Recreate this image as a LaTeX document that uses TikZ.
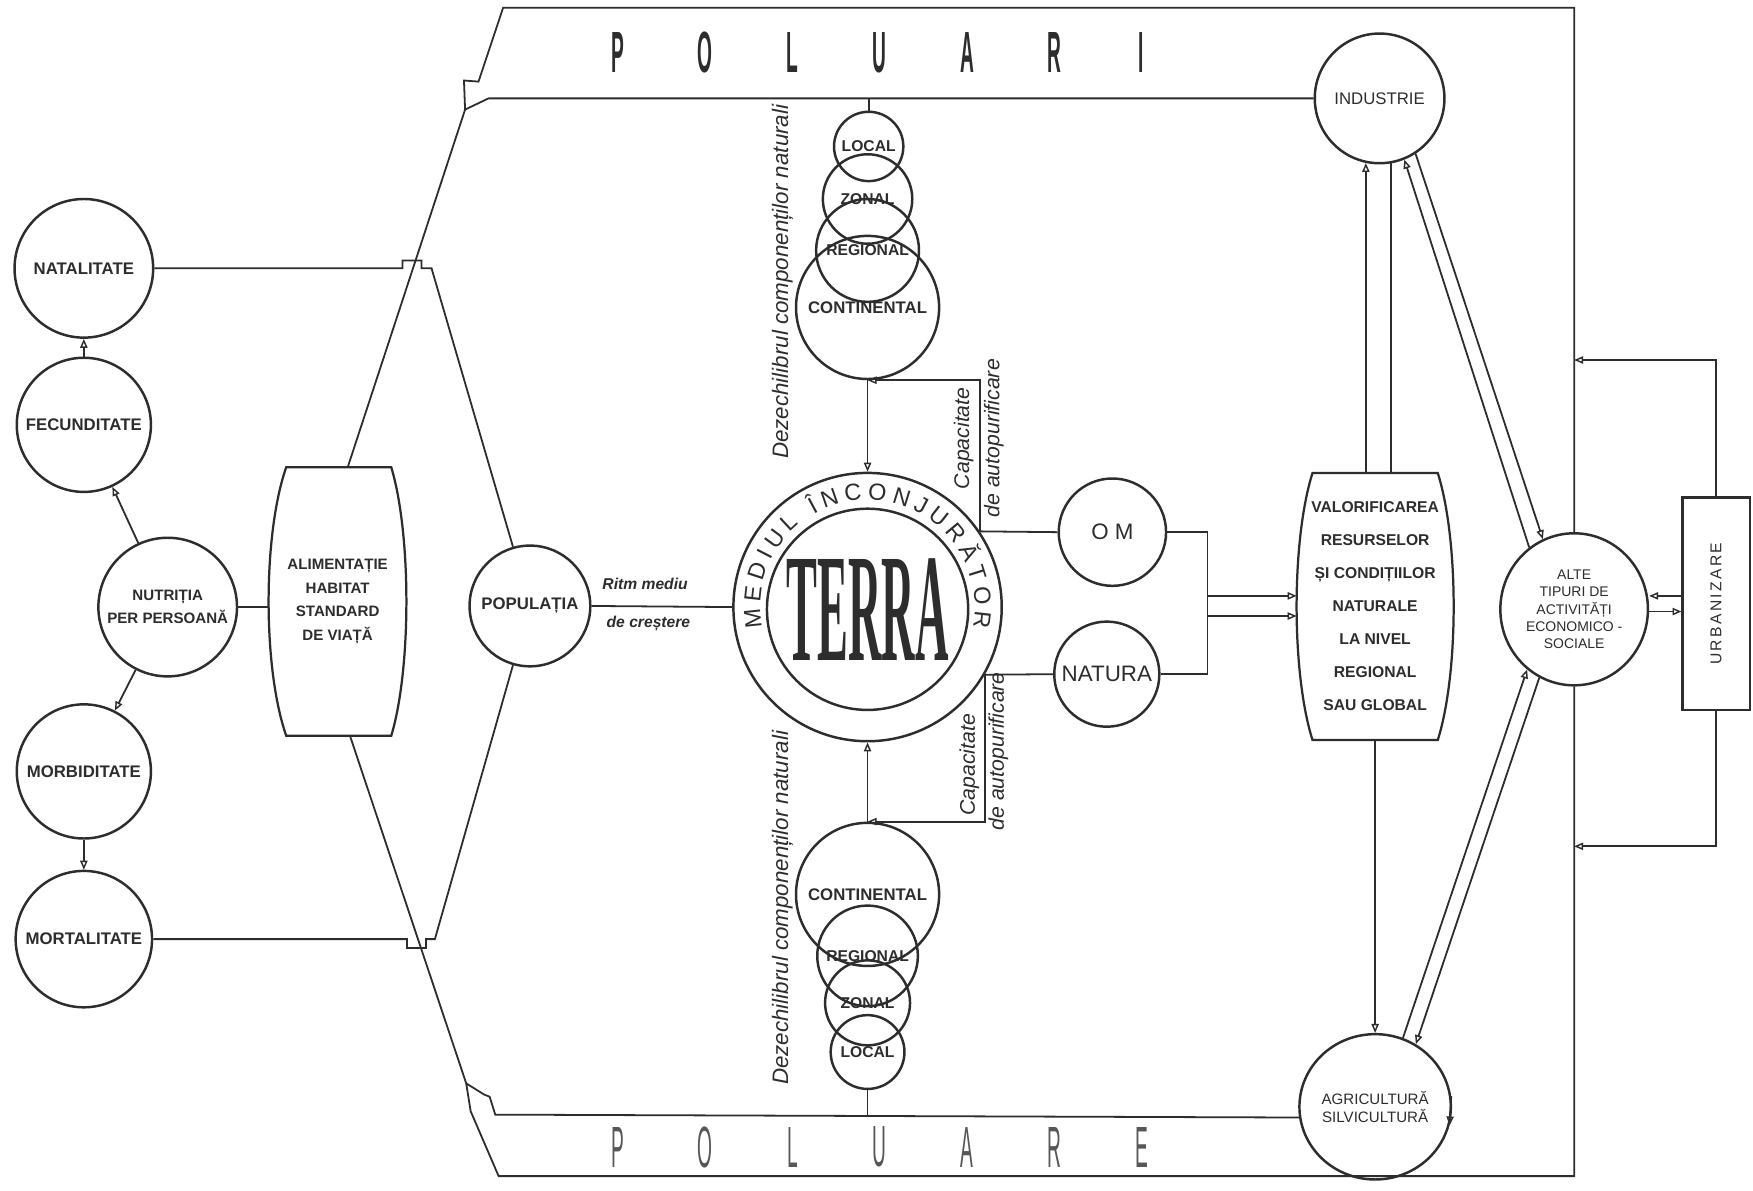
\documentclass[tikz,border=0pt]{standalone}
\usepackage{fontspec}
\usepackage{graphicx}
\setmainfont{Liberation Sans}
\setsansfont{Liberation Sans}
\newfontfamily\serifbold{Liberation Serif}
\newfontfamily\spacedsans[LetterSpace=15]{Liberation Sans}
\usetikzlibrary{arrows.meta,shapes.geometric,decorations.text,calc}
\definecolor{ink}{RGB}{45,45,45}
\tikzset{
  ln/.style={draw=ink, line width=1.6pt},
  rim/.style={circle, draw=ink, line width=2.2pt, inner sep=0pt, text=ink},
  oval/.style={ellipse, draw=ink, line width=2.2pt, inner sep=0pt, text=ink},
  arr/.style={ln, -{Triangle[open, length=8pt, width=6.5pt, line width=1.3pt]}},
  lblb/.style={font=\fontsize{15}{17}\selectfont\bfseries},
  lbls/.style={font=\fontsize{14}{16}\selectfont\bfseries},
  capit/.style={rotate=90, text=ink, inner sep=0pt, font=\fontsize{19}{19}\selectfont\itshape},
  dezit/.style={rotate=90, text=ink, inner sep=0pt, font=\fontsize{20}{20}\selectfont\itshape},
  polb/.style={text=ink, inner sep=0pt, font=\fontsize{52}{52}\selectfont\bfseries},
  polr/.style={text=ink!80, inner sep=0pt, font=\fontsize{52}{52}\selectfont},
}
\begin{document}
\begin{tikzpicture}[x=1pt,y=-1pt]
\useasboundingbox[fill=white] (0,0) rectangle (1568,1065);

% ---------- left column ----------
\node[rim, minimum size=124pt, lblb] (nat) at (75,240) {NATALITATE};
\node[rim, minimum size=120pt, lblb] (fec) at (75,380) {FECUNDITATE};
\node[rim, minimum size=124pt, align=center, font=\fontsize{13.5}{21}\selectfont\bfseries] (nut) at (150,543) {NUTRIȚIA\\PER PERSOANĂ};
\node[rim, minimum size=120pt, lblb] (mor) at (75,690) {MORBIDITATE};
\node[rim, minimum size=122pt, lblb] (mrt) at (75,840) {MORTALITATE};
\draw[arr] (nut) -- (fec);
\draw[arr] (fec) -- (nat);
\draw[arr] (nut) -- (mor);
\draw[arr] (mor) -- (mrt);

% ---------- ALIMENTATIE barrel ----------
\draw[ln, line width=2pt] (256,418) -- (350,418) .. controls (368,478) and (368,598) .. (350,658)
   -- (256,658) .. controls (235,598) and (235,478) .. (256,418) -- cycle;
\node[minimum width=124pt, minimum height=240pt, align=center, text=ink,
      font=\fontsize{13.5}{21}\selectfont\bfseries] (alim) at (302,538)
      {ALIMENTAȚIE\\HABITAT\\STANDARD\\DE VIAȚĂ};
\draw[ln] (nut.east) -- (nut.east -| alim.west);

% ---------- POPULATIA ----------
\node[rim, minimum size=108pt, lblb] (pop) at (474,542) {POPULAȚIA};

% ---------- frame and bands ----------
\coordinate (ftl) at (450,7);
\coordinate (ftr) at (1408,7);
\coordinate (fbr) at (1408,1052);
\coordinate (fbl) at (446,1052);
\coordinate (j1) at (416,98);
\coordinate (j2) at (417,969);
\coordinate (bt) at (311,418);
\coordinate (bb) at (313,658);

% ---------- TERRA ----------
\node[rim, minimum size=240pt] (terra) at (776,543) {};
\node[rim, minimum size=180pt] (core) at (776,545) {};
\node[inner sep=0pt, text=ink] (terratxt) at (core.center)
  {\scalebox{0.3}[1]{\serifbold\fontsize{138}{138}\selectfont\bfseries TERRA}};
\path[decorate, decoration={text along path, text color=ink,
      text={|\fontsize{21}{21}\selectfont|MEDIUL ÎNCONJURĂTOR}, text align={fit to path}}]
  ($(terra.center)+(191:96pt)$) arc[start angle=191, end angle=-11, radius=96pt];

% ---------- upper stack ----------
\node[rim, minimum size=128pt, lblb] (c1) at (776,275) {CONTINENTAL};
\node[rim, minimum size=92pt, lbls] (r1) at (776,224) {REGIONAL};
\node[rim, minimum size=80pt, lbls] (z1) at (776,178) {ZONAL};
\node[rim, minimum size=62pt, lbls] (l1) at (777,131) {LOCAL};

% ---------- lower stack ----------
\node[rim, minimum size=128pt, lblb] (c2) at (776,800) {CONTINENTAL};
\node[rim, minimum size=90pt, lbls] (r2) at (776,855) {REGIONAL};
\node[rim, minimum size=76pt, lbls] (z2) at (776,897) {ZONAL};
\node[rim, minimum size=66pt, lbls] (l2) at (776,941) {LOCAL};

% ---------- OM / NATURA ----------
\node[rim, minimum size=96pt, font=\fontsize{20}{20}\selectfont] (om) at (995,476) {O M};
\node[rim, minimum size=94pt, font=\fontsize{20}{20}\selectfont] (natura) at (990,603) {NATURA};

% ---------- INDUSTRIE ----------
\node[rim, minimum size=116pt, font=\fontsize{15}{15}\selectfont] (ind) at (1234,88) {INDUSTRIE};

% ---------- VALORIFICAREA barrel ----------
\draw[ln, line width=2pt] (1174,423) -- (1286,423) .. controls (1305,483) and (1305,602) .. (1286,662)
   -- (1174,662) .. controls (1155,602) and (1155,483) .. (1174,423) -- cycle;
\node[minimum width=140pt, minimum height=239pt, align=center, text=ink,
      font=\fontsize{14}{29.5}\selectfont\bfseries] (valor) at (1230,542.5)
      {VALORIFICAREA\\RESURSELOR\\ȘI CONDIȚIILOR\\NATURALE\\LA NIVEL\\REGIONAL\\SAU GLOBAL};

% ---------- ALTE / AGRICULTURA / URBANIZARE ----------
\node[oval, minimum width=132pt, minimum height=136pt, align=center,
      font=\fontsize{12.5}{15.5}\selectfont] (alte) at (1408,545)
      {ALTE\\TIPURI DE\\ACTIVITĂȚI\\ECONOMICO -\\SOCIALE};
\node[oval, minimum width=130pt, minimum height=130pt, align=center,
      font=\fontsize{13.5}{16}\selectfont] (agr) at (1230,990)
      {AGRICULTURĂ\\SILVICULTURĂ};
\node[draw=ink, line width=2pt, minimum width=60pt, minimum height=190pt, inner sep=0pt, text=ink,
      font=\fontsize{14}{14}\spacedsans\selectfont] (urb) at (1535,540) {\rotatebox{90}{URBANIZARE}};

% frame lines
\draw[ln] (alte.north) -- (ftr) -- (ftl) -- (428,73) -- (415,72) -- (j1) -- (437,88) -- (ind.west);
\draw[ln] (alte.south) -- (fbr) -- (fbl) -- (421,994) -- (j2) -- (433,979) -- (438,981) -- (443,997) -- (agr.188);

% big diagonals and crossings
\draw[ln] (j1) -- (bt);
\draw[ln] (bb) -- (j2);
\draw[ln] (nat.east) -- (360,240) -- (360,233) -- (377,233) -- (377,240) -- (386,240) -- (pop.106);
\draw[ln] (mrt.east) -- (364,840) -- (364,848) -- (381,848) -- (381,840) -- (389,840) -- (pop.254);

% POPULATIA - TERRA
\draw[ln] (pop.east) -- (terra.west);
\node[text=ink, font=\fontsize{14}{14}\selectfont\bfseries\itshape] (rm) at (577,522) {Ritm mediu};
\node[text=ink, font=\fontsize{14}{14}\selectfont\bfseries\itshape] (dc) at (580,558) {de creștere};

% stacks to bands and TERRA
\coordinate (ti) at (777,88);
\coordinate (bi) at (776,999);
\draw[ln] (ti) -- (l1.north);
\draw[ln] (l2.south) -- (bi);
\draw[arr] (c1.south) -- (terra.north);
\draw[arr] (terra.34) |- (c1.south);
\draw[arr] (c2.north) -- (terra.south);
\draw[arr] (terra.-30) |- (c2.north);
\draw[ln] (terra.34) -- (om.west);
\draw[ln] (terra.-30) -- (natura.west);

% rotated labels
\node[dezit] (dz1) at (700,252) {Dezechilibrul componenților naturali};
\node[dezit] (dz2) at (700,812) {Dezechilibrul componenților naturali};
\node[capit] (ca1) at (862,392) {Capacitate};
\node[capit] (au1) at (889,392) {de autopurificare};
\node[capit] (ca2) at (867,684) {Capacitate};
\node[capit] (au2) at (893,672) {de autopurificare};

% OM / NATURA to VALORIFICAREA
\coordinate (jo) at (1080,476);
\coordinate (jn) at (1080,603);
\coordinate (ja) at (1080,533);
\coordinate (jb) at (1080,551);
\draw[ln] (om.east) -- (jo) -- (jn) -- (natura.east);
\draw[arr] (ja) -- (ja -| valor.west);
\draw[arr] (jb) -- (jb -| valor.west);

% INDUSTRIE links
\draw[arr] (ind.-102 |- valor.north) -- (ind.-102);
\draw[ln] (ind.-80 |- valor.north) -- (ind.-80);
\draw[arr] (alte.126) -- (ind.-68);
\draw[arr] (ind.-57) -- (alte.114);

% AGRICULTURA links
\draw[arr] (valor.south) -- (agr.north);
\draw[arr] (agr.68) -- (alte.232);
\draw[arr] (alte.243) -- (agr.57);
\draw[arr] (agr.8) -- (agr.-14);

% URBANIZARE links
\coordinate (fr1) at (1408,322);
\coordinate (fr2) at (1408,757);
\draw[arr] (urb.north) |- (fr1);
\draw[arr] (urb.south) |- (fr2);
\coordinate (ua) at ($(urb.west)+(0,-7)$);
\coordinate (ub) at ($(urb.west)+(0,7)$);
\draw[arr] (ua) -- (ua -| alte.east);
\draw[arr] (ub -| alte.east) -- (ub);

% POLUARI / POLUARE
\foreach \l [count=\i] in {P,O,L,U,A,R,I}
  \node[polb] (pt\i) at ({553+78*(\i-1)},47) {\scalebox{0.33}[1]{\l}};
\foreach \l [count=\i] in {P,O,L,U,A,R,E}
  \node[polr] (pb\i) at ({553+78*(\i-1)},1026) {\scalebox{0.33}[1]{\l}};
\end{tikzpicture}
\end{document}
